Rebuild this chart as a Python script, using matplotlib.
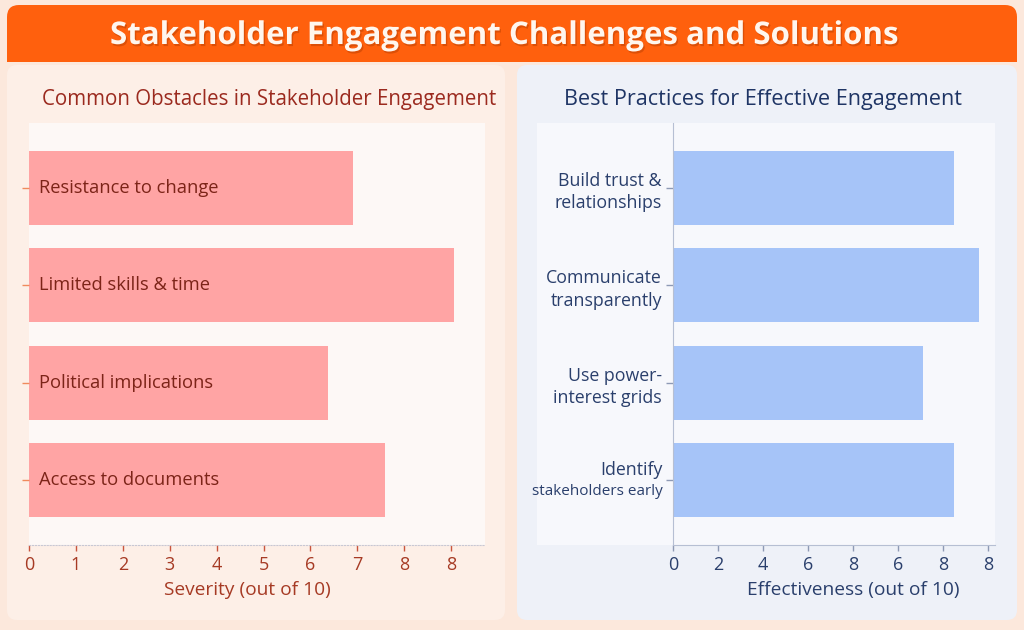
import matplotlib
matplotlib.use("Agg")
import matplotlib.pyplot as plt
from matplotlib.patches import FancyBboxPatch, Rectangle
import matplotlib.patheffects as pe

plt.rcParams['font.family'] = ['Open Sans', 'DejaVu Sans']

W, H = 1024, 630

# Data
obstacles = ["Resistance to change", "Limited skills & time",
             "Political implications", "Access to documents"]
severity = [6.9, 9.06, 6.37, 7.59]
severity_ticks = [0, 1, 2, 3, 4, 5, 6, 7, 8, 9]
severity_ticklabels = ["0", "1", "2", "3", "4", "5", "6", "7", "8", "8"]

practices = ["Build trust &\nrelationships", "Communicate\ntransparently",
             "Use power-\ninterest grids", "Identify\nstakeholders early"]
effectiveness = [12.5, 13.6, 11.1, 12.5]
effect_ticks = [0, 2, 4, 6, 8, 10, 12, 14]
effect_ticklabels = ["0", "2", "4", "6", "8", "6", "8", "8"]

title = "Stakeholder Engagement Challenges and Solutions"
left_title = "Common Obstacles in Stakeholder Engagement"
right_title = "Best Practices for Effective Engagement"


def frac(x0, y0, x1, y1):
    """Pixel box (top-left origin) -> figure fraction [l, b, w, h]."""
    return [x0 / W, 1 - y1 / H, (x1 - x0) / W, (y1 - y0) / H]


def rounded(fig, x0, y0, x1, y1, color, r=8):
    l, b, w, h = frac(x0, y0, x1, y1)
    p = FancyBboxPatch((l, b), w, h, transform=fig.transFigure,
                       boxstyle="round,pad=0,rounding_size=%f" % (r / W),
                       facecolor=color, edgecolor="none", zorder=-5,
                       mutation_aspect=W / H)
    fig.patches.append(p)


def rect(fig, x0, y0, x1, y1, color):
    l, b, w, h = frac(x0, y0, x1, y1)
    p = Rectangle((l, b), w, h, transform=fig.transFigure,
                  facecolor=color, edgecolor="none", zorder=-5)
    fig.patches.append(p)


fig = plt.figure(figsize=(W / 100, H / 100), dpi=100)
fig.patch.set_facecolor("#fce8dc")

# Header band
rounded(fig, 7, 5, 1017, 62, "#ff600d", r=12)
rect(fig, 7, 40, 1017, 62, "#ff600d")
fig.text(505 / W, 1 - 36 / H, title, ha="center", va="center",
         fontsize=22.5, fontweight="bold", color="#fff6ee",
         path_effects=[pe.withSimplePatchShadow(offset=(1, -1.5),
                                                shadow_rgbFace="#b33c00",
                                                alpha=0.45)])

# Panels
rounded(fig, 7, 65, 505, 620, "#fdefe7", r=10)
rounded(fig, 517, 65, 1017, 620, "#eef1f8", r=10)
rect(fig, 29, 123, 485, 545, "#fdf8f6")
rect(fig, 537, 123, 995, 545, "#f7f8fc")

fig.text(269 / W, 1 - 99 / H, left_title, ha="center", va="center",
         fontsize=14.8, color="#9b2a1f")
fig.text(763 / W, 1 - 99 / H, right_title, ha="center", va="center",
         fontsize=15.6, color="#1f3565")

# Left chart
axl = fig.add_axes(frac(29, 123, 485, 545))
axl.patch.set_alpha(0)
ypos = list(range(len(obstacles)))
axl.barh(ypos, severity, height=0.76, color="#ffa4a4")
axl.set_ylim(len(obstacles) - 0.33, -0.67)
axl.set_xlim(0, 9.72)
axl.set_yticks(ypos)
axl.set_yticklabels([""] * len(obstacles))
for y, name in zip(ypos, obstacles):
    axl.text(0.22, y, name, va="center", ha="left", fontsize=13.2,
             color="#7c2418")
axl.set_xticks(severity_ticks)
axl.set_xticklabels(severity_ticklabels)
axl.tick_params(axis="x", colors="#c9553e", labelcolor="#a63a24",
                labelsize=13, length=4, width=1, pad=4)
axl.tick_params(axis="y", colors="#f08a5d", length=5, width=1)
for s in ["top", "right", "left"]:
    axl.spines[s].set_visible(False)
axl.spines["bottom"].set_color("#c8c8d4")
axl.spines["bottom"].set_linestyle(":")
axl.set_xlabel("Severity (out of 10)", fontsize=13.8, color="#a63a24",
               labelpad=6)
axl.xaxis.set_label_coords(0.478, -0.085)

# Right chart
axr = fig.add_axes(frac(673, 123, 995, 545))
axr.patch.set_alpha(0)
ypos = list(range(len(practices)))
axr.barh(ypos, effectiveness, height=0.76, color="#a6c4f8")
axr.set_ylim(len(practices) - 0.33, -0.67)
axr.set_xlim(0, 14.31)
axr.set_yticks(ypos)
# last label has a smaller second line in the reference, drawn separately
axr.set_yticklabels(practices[:-1] + [""], color="#2a3f6c",
                    linespacing=1.3, ha="right", fontsize=12.8)
first, second = practices[-1].split("\n")
axr.annotate(first, xy=(0, ypos[-1]), xytext=(-7.5, 7), va="center",
             ha="right", textcoords="offset points", fontsize=12.8,
             color="#2a3f6c", annotation_clip=False)
axr.annotate(second, xy=(0, ypos[-1]), xytext=(-7.5, -8.5), va="center",
             ha="right", textcoords="offset points", fontsize=11,
             color="#2a3f6c", annotation_clip=False)
axr.set_xticks(effect_ticks)
axr.set_xticklabels(effect_ticklabels)
axr.tick_params(axis="x", colors="#8e9ab5", labelcolor="#2a3f6c",
                labelsize=13, length=4, width=1, pad=4)
axr.tick_params(axis="y", colors="#8e9ab5", labelcolor="#2a3f6c",
                length=5, width=1, pad=3)
for s in ["top", "right"]:
    axr.spines[s].set_visible(False)
for s in ["left", "bottom"]:
    axr.spines[s].set_color("#b6bfd3")
axr.set_xlabel("Effectiveness (out of 10)", fontsize=13.8, color="#2a3f6c",
               labelpad=6)
axr.xaxis.set_label_coords(0.559, -0.085)

fig.savefig("out.png", dpi=100, facecolor=fig.get_facecolor())
